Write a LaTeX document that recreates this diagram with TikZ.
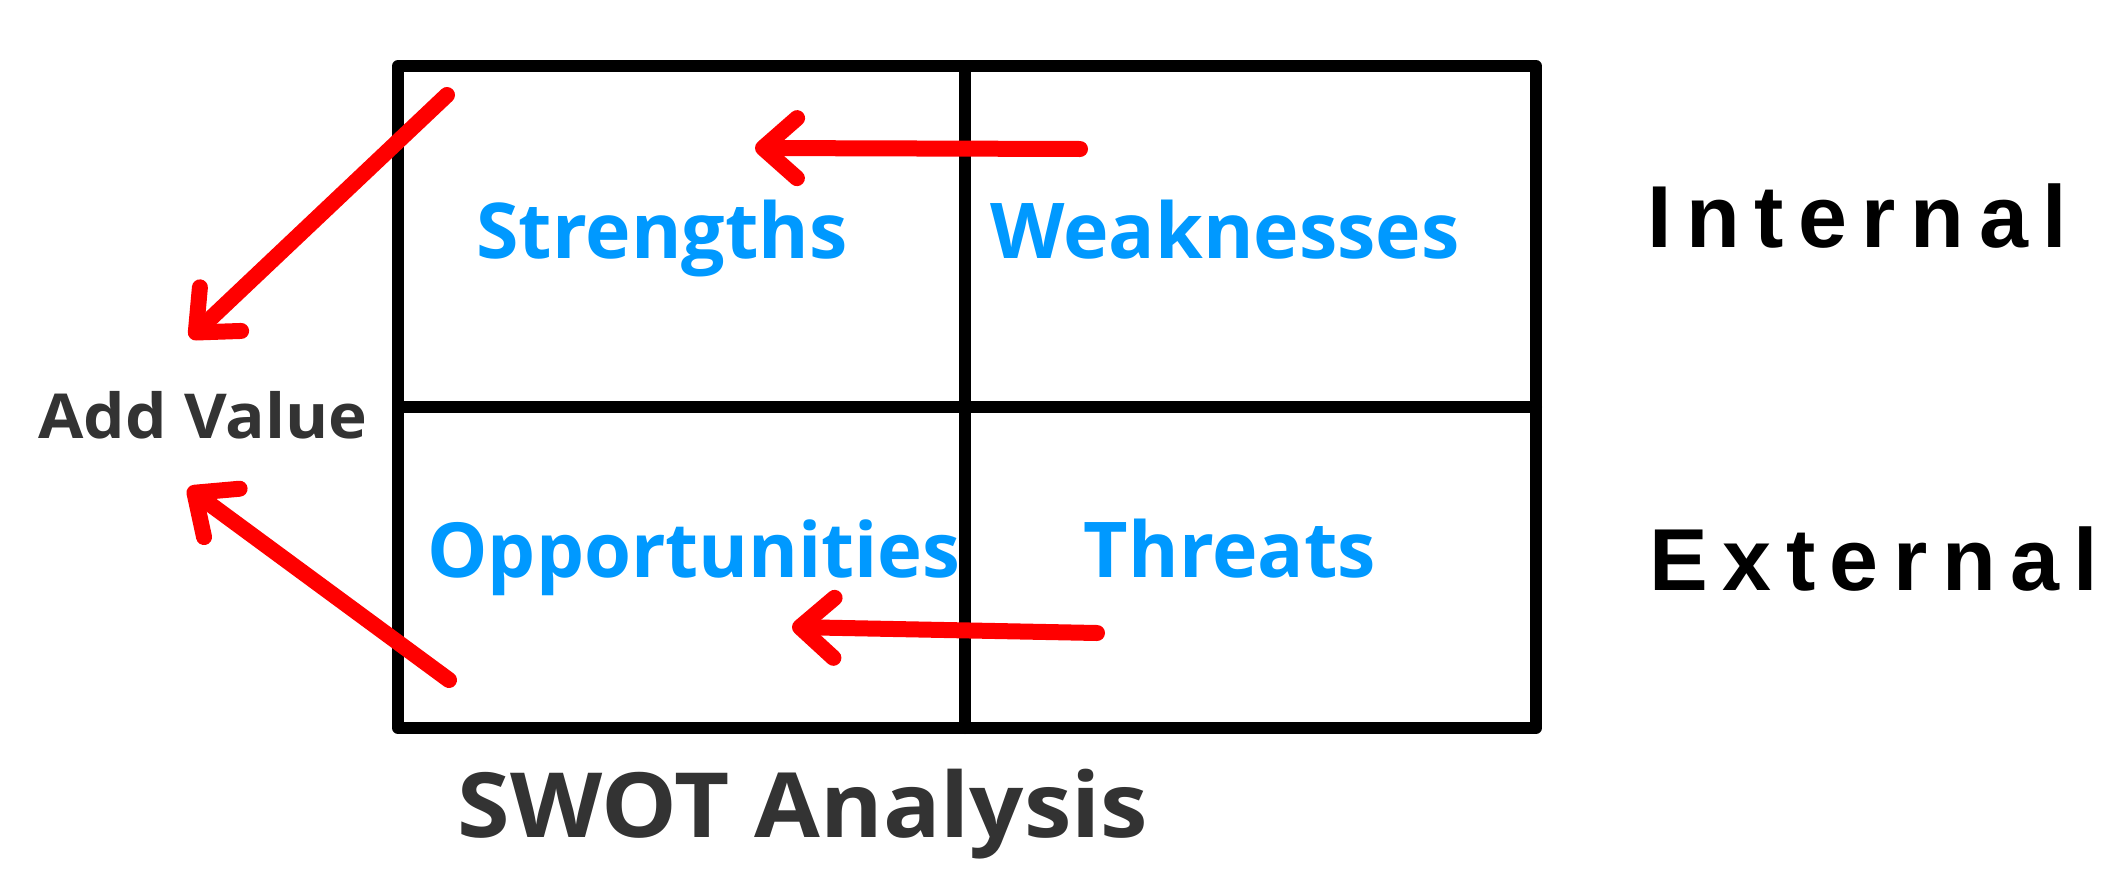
\documentclass[tikz,border=0pt]{standalone}
\usepackage{fontspec}
\usetikzlibrary{arrows.meta}

\newfontfamily\labelfont{Open Sans}
\newfontfamily\widefont[FakeStretch=1.06]{Open Sans}
\newfontfamily\sidefont[LetterSpace=16.5]{Liberation Sans}

\definecolor{quadblue}{RGB}{0,153,255}
\definecolor{captiongray}{RGB}{51,51,51}
\definecolor{arrowred}{RGB}{255,0,0}

\begin{document}
\begin{tikzpicture}[x=0.5pt,y=-0.5pt,
  gridline/.style={line width=6pt, line join=round, line cap=round, draw=black},
  quadlabel/.style={anchor=base, inner sep=0pt, text=quadblue,
    font=\labelfont\bfseries\fontsize{38.5pt}{42pt}\selectfont},
  caption/.style={anchor=base, inner sep=0pt, text=captiongray},
  sidelabel/.style={anchor=base west, inner sep=0pt, text=black,
    font=\sidefont\bfseries\fontsize{44pt}{48pt}\selectfont},
  redarrow/.style={draw=arrowred, line width=8pt, line cap=round,
    -{Straight Barb[length=17pt, width=30pt, round]}}
]
  % page extent
  \useasboundingbox (0,0) rectangle (2102,878);

  % the 2x2 grid
  \coordinate (nw) at (398,66);
  \coordinate (se) at (1536,728);
  \coordinate (midtop) at (965,66);
  \coordinate (midbot) at (965,728);
  \coordinate (midleft) at (398,407);
  \coordinate (midright) at (1536,407);
  \draw[gridline] (nw) rectangle (se);
  \draw[gridline] (midtop) -- (midbot);
  \draw[gridline] (midleft) -- (midright);

  % quadrant labels
  \node[quadlabel] (str) at (662,258) {Strengths};
  \node[quadlabel] (weak) at (1225,258) {Weaknesses};
  \node[quadlabel, font=\labelfont\bfseries\fontsize{38pt}{42pt}\selectfont]
    (opp) at (694,577) {Opportunities};
  \node[quadlabel] (thr) at (1230,577) {Threats};

  % captions
  \node[caption, font=\widefont\bfseries\fontsize{31pt}{34pt}\selectfont]
    (add) at (203,438) {Add Value};
  \node[caption, font=\widefont\bfseries\fontsize{45pt}{48pt}\selectfont]
    (swot) at (803,837) {SWOT Analysis};

  % row labels
  \node[sidelabel] (int) at (1647,247) {Internal};
  \node[sidelabel] (ext) at (1649,590) {External};

  % arrow end points
  \coordinate (wtail) at (1080,149);
  \coordinate (whead) at (755,148);
  \coordinate (ttail) at (1097,633);
  \coordinate (thead) at (792,627);
  \coordinate (stail) at (447,95);
  \coordinate (shead) at (190,338);
  \coordinate (otail) at (449,680);
  \coordinate (ohead) at (188,488);

  % red arrows
  \draw[redarrow] (wtail) -- (whead);
  \draw[redarrow] (ttail) -- (thead);
  \draw[redarrow] (stail) -- (shead);
  \draw[redarrow] (otail) -- (ohead);
\end{tikzpicture}
\end{document}
